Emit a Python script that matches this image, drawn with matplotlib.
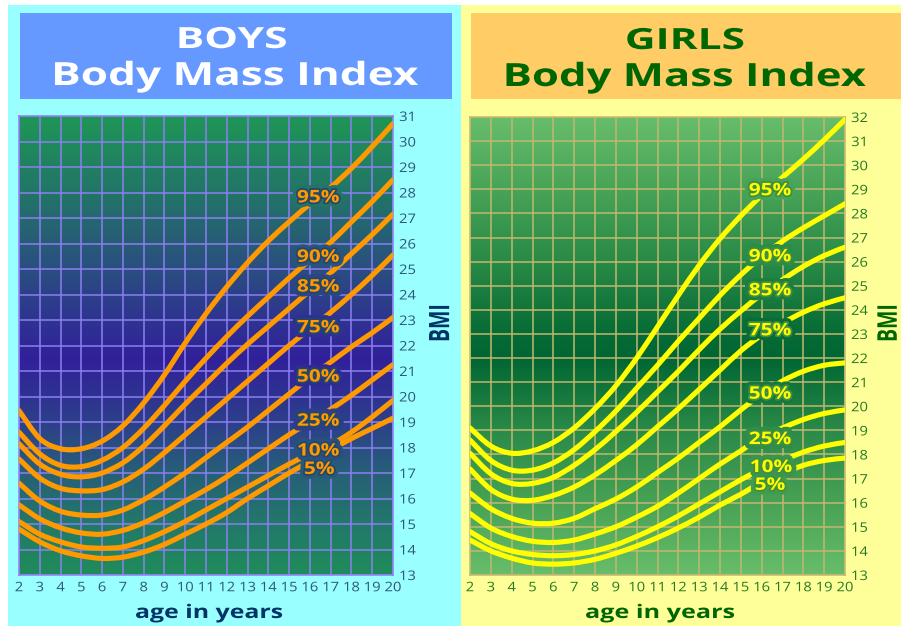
import numpy as np
import matplotlib
matplotlib.use('Agg')
import matplotlib.pyplot as plt
from matplotlib import patheffects
from matplotlib.transforms import Affine2D
from matplotlib.colors import LinearSegmentedColormap, Normalize
from matplotlib.patches import Rectangle, PathPatch
from matplotlib.path import Path

plt.rcParams['font.family'] = ['Open Sans', 'DejaVu Sans']

# ---- data (BMI, one value per year of age) ----
ages = list(range(2, 21))
percentiles = ['5%', '10%', '25%', '50%', '75%', '85%', '90%', '95%']

boys_p5 = [14.8, 14.3, 13.95, 13.75, 13.65, 13.7, 13.9, 14.2, 14.6, 15.0, 15.45, 16.0, 16.5, 17.0, 17.45, 17.9, 18.35, 18.75, 19.15]
boys_p10 = [15.1, 14.6, 14.3, 14.1, 14.05, 14.1, 14.35, 14.7, 15.1, 15.55, 16.0, 16.45, 16.9, 17.35, 17.75, 18.1, 18.6, 19.2, 19.85]
boys_p25 = [15.75, 15.2, 14.85, 14.65, 14.6, 14.75, 15.05, 15.45, 15.9, 16.35, 16.85, 17.4, 17.95, 18.5, 19.0, 19.5, 20.05, 20.65, 21.25]
boys_p50 = [16.6, 15.9, 15.5, 15.35, 15.35, 15.55, 15.95, 16.45, 17.0, 17.6, 18.2, 18.8, 19.45, 20.1, 20.75, 21.35, 21.95, 22.5, 23.1]
boys_p75 = [17.55, 16.8, 16.4, 16.3, 16.35, 16.65, 17.15, 17.8, 18.5, 19.2, 19.9, 20.6, 21.3, 22.0, 22.65, 23.3, 24.0, 24.75, 25.55]
boys_p85 = [18.15, 17.35, 16.95, 16.85, 17.0, 17.4, 18.05, 18.85, 19.7, 20.5, 21.3, 22.05, 22.75, 23.45, 24.15, 24.85, 25.6, 26.35, 27.15]
boys_p90 = [18.6, 17.75, 17.3, 17.25, 17.5, 18.0, 18.75, 19.65, 20.6, 21.5, 22.35, 23.15, 23.9, 24.65, 25.35, 26.05, 26.85, 27.65, 28.5]
boys_p95 = [19.45, 18.35, 17.95, 17.95, 18.25, 18.85, 19.75, 20.85, 22.1, 23.25, 24.3, 25.25, 26.1, 26.85, 27.55, 28.2, 28.95, 29.8, 30.7]

girls_p5 = [14.45, 14.0, 13.7, 13.5, 13.45, 13.5, 13.65, 13.9, 14.2, 14.55, 14.95, 15.4, 15.9, 16.35, 16.85, 17.2, 17.55, 17.75, 17.85]
girls_p10 = [14.8, 14.3, 14.0, 13.85, 13.8, 13.85, 14.0, 14.25, 14.6, 15.0, 15.45, 15.95, 16.45, 16.95, 17.4, 17.75, 18.1, 18.35, 18.5]
girls_p25 = [15.55, 14.95, 14.6, 14.4, 14.35, 14.45, 14.7, 15.0, 15.4, 15.85, 16.4, 17.0, 17.6, 18.15, 18.75, 19.1, 19.45, 19.7, 19.85]
girls_p50 = [16.4, 15.75, 15.35, 15.15, 15.15, 15.35, 15.75, 16.15, 16.65, 17.25, 17.85, 18.5, 19.15, 19.85, 20.5, 21.05, 21.45, 21.7, 21.8]
girls_p75 = [17.4, 16.55, 16.15, 16.1, 16.3, 16.65, 17.15, 17.75, 18.4, 19.15, 19.9, 20.7, 21.5, 22.3, 22.95, 23.45, 23.9, 24.25, 24.5]
girls_p85 = [18.05, 17.2, 16.8, 16.8, 17.05, 17.55, 18.2, 18.95, 19.75, 20.6, 21.45, 22.35, 23.2, 23.95, 24.65, 25.25, 25.8, 26.25, 26.6]
girls_p90 = [18.6, 17.75, 17.35, 17.35, 17.65, 18.2, 18.95, 19.8, 20.75, 21.7, 22.7, 23.65, 24.6, 25.45, 26.2, 26.85, 27.4, 27.9, 28.4]
girls_p95 = [19.1, 18.35, 18.05, 18.15, 18.5, 19.1, 19.9, 20.85, 22.0, 23.3, 24.6, 25.85, 26.95, 27.9, 28.75, 29.5, 30.25, 31.05, 31.9]

boys = [boys_p5, boys_p10, boys_p25, boys_p50, boys_p75, boys_p85, boys_p90, boys_p95]
girls = [girls_p5, girls_p10, girls_p25, girls_p50, girls_p75, girls_p85, girls_p90, girls_p95]

# where the percent labels sit (age, bmi)
boys_label_age = [16.45, 16.4, 16.4, 16.4, 16.4, 16.4, 16.4, 16.4]
boys_label_bmi = [17.16, 17.88, 19.05, 20.78, 22.71, 24.31, 25.48, 27.81]
girls_label_age = [16.4, 16.45, 16.4, 16.4, 16.4, 16.4, 16.4, 16.4]
girls_label_bmi = [16.74, 17.48, 18.64, 20.52, 23.15, 24.81, 26.22, 28.96]


class StretchX(patheffects.AbstractPathEffect):
    # widen glyphs horizontally about their own centre
    def __init__(self, sx, inner=None):
        super().__init__()
        self.sx = sx
        self.inner = inner if inner else [patheffects.Normal()]

    def draw_path(self, renderer, gc, tpath, affine, rgbFace=None):
        ext = tpath.get_extents(affine)
        cx = (ext.x0 + ext.x1) / 2
        aff = affine + Affine2D().translate(-cx, 0).scale(self.sx, 1).translate(cx, 0)
        for pe in self.inner:
            pe.draw_path(renderer, gc, tpath, aff, rgbFace)


def smooth_path(xs, ys):
    # catmull-rom through the read points, drawn as cubic beziers
    p = np.column_stack([xs, ys]).astype(float)
    p = np.vstack([p[0], p, p[-1]])
    verts = [p[1]]
    codes = [Path.MOVETO]
    for i in range(1, len(p) - 2):
        c1 = p[i] + (p[i + 1] - p[i - 1]) / 6
        c2 = p[i + 1] - (p[i + 2] - p[i]) / 6
        verts += [c1, c2, p[i + 1]]
        codes += [Path.CURVE4] * 3
    return Path(verts, codes)


W, H = 901, 626
fig = plt.figure(figsize=(W / 100, H / 100), dpi=100)
fig.patch.set_facecolor('white')
renderer = fig.canvas.get_renderer()


def box(x0, y0, x1, y1, color):
    fig.add_artist(Rectangle((x0 / W, 1 - y1 / H), (x1 - x0) / W, (y1 - y0) / H,
                             transform=fig.transFigure, facecolor=color,
                             edgecolor='none', zorder=0))


def ptext(x, y, s, width=None, sx=None, **kw):
    t = fig.text(x / W, 1 - y / H, s, ha='center', **kw)
    if width is not None:
        sx = width / t.get_window_extent(renderer).width
    if sx is not None:
        t.set_path_effects([StretchX(sx)])
    return t


def panel(left, right, top, bottom, ytop, series, line_color, stops, grid_color,
          tick_color, lab_age, lab_bmi, halo):
    ax = fig.add_axes([left / W, 1 - bottom / H, (right - left) / W, (bottom - top) / H])
    lo, hi = 13, ytop
    cmap = LinearSegmentedColormap.from_list(
        'bg', [((v - lo) / (hi - lo), c) for v, c in stops])
    norm = Normalize(lo, hi)
    grad = np.linspace(hi, lo, 400).reshape(-1, 1)
    ax.imshow(grad, cmap=cmap, norm=norm, extent=[2, 20, lo, hi], aspect='auto',
              interpolation='bilinear', zorder=0)
    ax.set_xlim(2, 20)
    ax.set_ylim(lo, hi)
    ax.set_xticks(ages)
    ax.set_yticks(range(lo, hi + 1))
    ax.yaxis.tick_right()
    ax.tick_params(length=0, labelsize=9.5, colors=tick_color)
    ax.tick_params(axis='x', pad=4.5)
    ax.tick_params(axis='y', pad=5)
    for lab in ax.get_xticklabels() + ax.get_yticklabels():
        lab.set_path_effects([StretchX(1.12)])
    ax.set_axisbelow(True)
    ax.grid(True, color=grid_color, lw=1.1)
    for sp in ax.spines.values():
        sp.set_color(grid_color)
        sp.set_linewidth(1.1)
    for vals in series:
        ax.add_patch(PathPatch(smooth_path(ages, vals), fill=False, edgecolor=line_color,
                               lw=3.7, capstyle='round', joinstyle='round', zorder=3))
    for name, a, b in zip(percentiles, lab_age, lab_bmi):
        bg = cmap(norm(b))
        ax.text(a, b, name, ha='center', va='center', fontsize=12.5, fontweight='bold',
                color=line_color, zorder=5,
                path_effects=[StretchX(1.2, [patheffects.Stroke(linewidth=7, foreground=bg),
                                             patheffects.Stroke(linewidth=2.6, foreground=halo),
                                             patheffects.Normal()])])
    return ax


# panel backgrounds and title boxes
box(8, 5, 461, 626, '#99ffff')
box(461, 5, 901, 626, '#ffff99')
box(20, 13, 452, 99, '#6699ff')
box(471, 13, 901, 99, '#ffcc66')

boys_stops = [(13, '#1f8c5a'), (15, '#22786a'), (17, '#275f78'), (19, '#2c3f8a'),
              (21.5, '#31209a'), (23, '#2e3490'), (25, '#2a4e80'), (27.5, '#236f6a'),
              (31, '#1e9656')]
girls_stops = [(13, '#67bd69'), (16, '#48a255'), (19, '#2a8a48'), (22, '#006633'),
               (23, '#066b36'), (26, '#288a46'), (29, '#47a357'), (32, '#66bd6b')]

panel(19, 393, 116, 575, 31, boys, '#ff9900', boys_stops, '#8c7ff0', '#2d5878',
      boys_label_age, boys_label_bmi, '#24476a')
panel(470, 845, 117, 575, 32, girls, '#ffff00', girls_stops, '#c2b86e', '#237a23',
      girls_label_age, girls_label_bmi, '#3f8f3f')

# titles
ptext(232, 48, 'BOYS', width=112, fontsize=21, fontweight='bold', color='white', va='baseline')
ptext(235.5, 85, 'Body Mass Index', width=368, fontsize=23, fontweight='bold', color='white', va='baseline')
ptext(685, 49, 'GIRLS', width=120, fontsize=21, fontweight='bold', color='#006600', va='baseline')
ptext(685, 86, 'Body Mass Index', width=364, fontsize=23, fontweight='bold', color='#006600', va='baseline')

# axis labels
ptext(209, 618, 'age in years', width=148, fontsize=13.5, fontweight='bold', color='#003366', va='baseline')
ptext(660, 618, 'age in years', width=150, fontsize=13.5, fontweight='bold', color='#006600', va='baseline')
ptext(441, 323, 'BMI', sx=1.45, fontsize=14, fontweight='bold', color='#003366', va='center', rotation=90)
ptext(889, 323, 'BMI', sx=1.4, fontsize=14, fontweight='bold', color='#006600', va='center', rotation=90)

fig.savefig('out.png', dpi=100)
